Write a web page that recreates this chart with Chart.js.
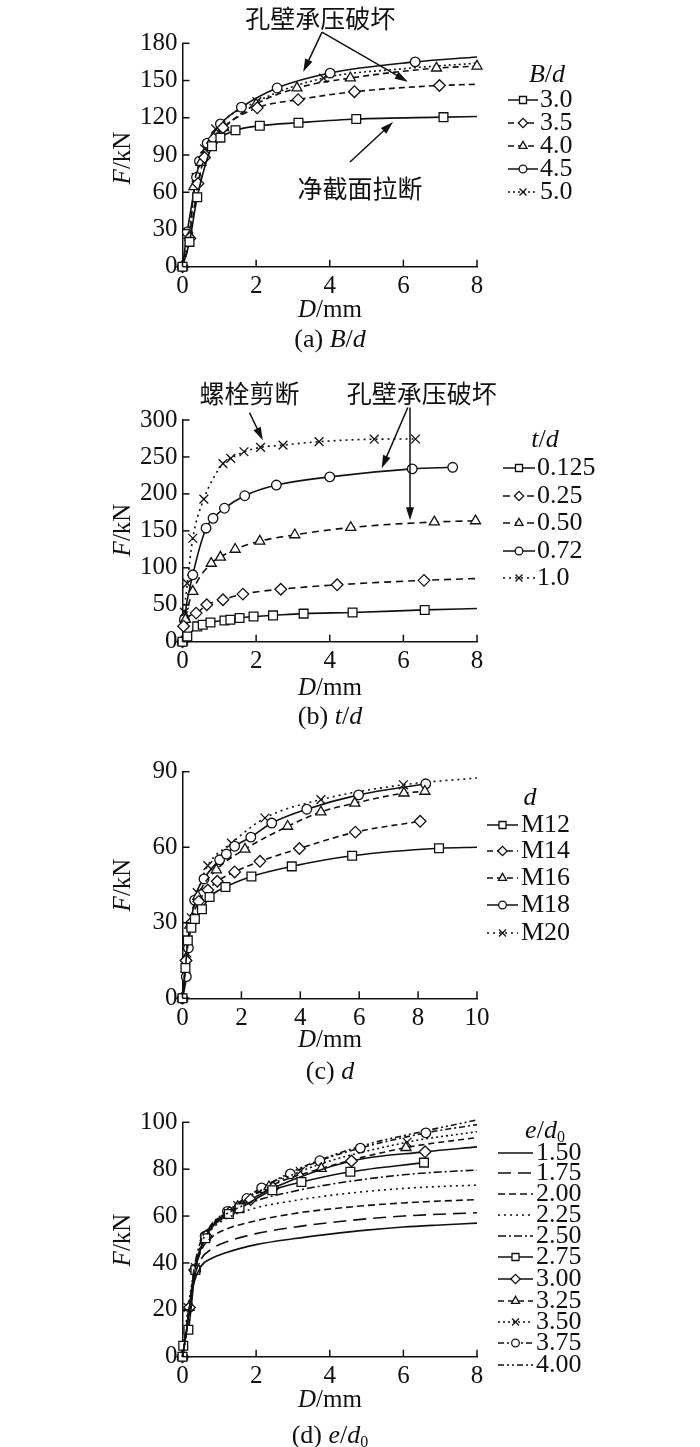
<!DOCTYPE html>
<html>
<head>
<meta charset="utf-8">
<script src="https://cdn.jsdelivr.net/npm/chart.js@4.4.1/dist/chart.umd.min.js"></script>
<style>
html, body { margin: 0; padding: 0; background: #fff; }
#wrap { position: relative; width: 700px; height: 1447px; }
canvas { position: absolute; left: 0; }
</style>
</head>
<body>
<div id="wrap">
  <canvas id="ca" width="700" height="355" style="top:0px"></canvas>
  <canvas id="cb" width="700" height="385" style="top:355px"></canvas>
  <canvas id="cc" width="700" height="350" style="top:740px"></canvas>
  <canvas id="cd" width="700" height="357" style="top:1090px"></canvas>
</div>
<script>
// (a) B/d  -- [D (mm), F (kN)], third item 0 = curve point without marker
const aLabels = ['3.0', '3.5', '4.0', '4.5', '5.0'];
const a30 = [[0,0],[0.19,20],[0.4,56],[0.8,97],[1.03,104],[1.44,110],[2.1,113.5],[3.15,116],[4.72,119],[7.09,120.5],[8,121,0]];
const a35 = [[0,0],[0.2,23],[0.42,67],[0.6,88],[0.85,103],[1.1,112],[2.03,128],[3.14,134.6],[4.67,141],[6.98,146],[8,147,0]];
const a40 = [[0,0],[0.2,25],[0.31,64.5],[0.5,84],[0.8,102],[1.12,112],[2.0,131],[3.11,144],[4.56,152],[6.9,160],[8,161.6]];
const a45 = [[0,0],[0.13,28],[0.38,72],[0.46,85],[0.67,99.5],[1.03,115],[1.6,128.5],[2.57,144],[4.01,156],[6.32,165],[8,169,0]];
const a50 = [[0,0],[0.17,24],[0.37,72],[0.6,95],[0.9,111],[2.02,133],[3.83,152],[6,159.5,0],[8,164,0]];

// (b) t/d
const bLabels = ['0.125', '0.25', '0.50', '0.72', '1.0'];
const b0125 = [[0,0],[0.13,7],[0.4,20.7],[0.55,23],[0.76,26],[1.14,28.8],[1.3,29.7],[1.55,32],[1.93,34],[2.46,35.6],[3.29,38],[4.62,39.6],[6.58,43],[8,45,0]];
const b025 = [[0,0],[0.03,21],[0.37,38.7],[0.66,50],[1.1,56.8],[1.64,64.4],[2.67,71],[4.2,77],[6.56,83],[8,85.5,0]];
const b050 = [[0,0],[0.08,30],[0.28,68],[0.78,106],[1.03,114.4],[1.43,125],[2.1,136],[3.05,144.6],[4.57,154.5],[6.84,162],[7.96,163.5]];
const b072 = [[0,0],[0.05,30],[0.28,90.5],[0.64,153.6],[0.83,167],[1.14,180.6],[1.69,197.5],[2.55,212],[4.0,223],[6.24,233.8],[7.34,236]];
const b10 = [[0,0],[0.05,40],[0.13,79],[0.28,140],[0.58,193],[1.1,241],[1.31,248],[1.67,257],[2.12,263],[2.73,266],[3.71,270.7],[5.21,274],[6.33,274.3]];

// (c) d
const cLabels = ['M12', 'M14', 'M16', 'M18', 'M20'];
const c12 = [[0,0],[0.1,12],[0.18,23],[0.3,28],[0.42,31.5],[0.66,35.4],[0.92,40.2],[1.46,44.2],[2.34,48.4],[3.71,52.4],[5.76,56.6],[8.71,59.6],[10,60,0]];
const c14 = [[0,0],[0.12,15],[0.3,30],[0.55,38.5],[0.86,43],[1.18,46.5],[1.77,50.2],[2.63,54.4],[3.97,59.5],[5.87,66],[8.07,70.3]];
const c16 = [[0,0],[0.12,16],[0.25,29],[0.52,40.5],[1.15,51],[2.12,59.2],[3.57,68.3],[4.7,74],[5.85,77.5],[7.52,81.5],[8.23,82.2]];
const c18 = [[0,0],[0.13,8.6],[0.2,20],[0.41,39],[0.73,47.4],[1.26,55],[1.49,57.3],[1.77,60.4],[2.32,64],[3.03,69.6],[4.22,75.1],[5.98,80.8],[8.26,85.2]];
const c20 = [[0,0],[0.15,18],[0.3,32],[0.5,42],[0.86,52.7],[1.66,61.6],[2.8,71.6],[4.7,78.9],[7.5,84.8],[10,87.5,0]];

// (d) e/d0
const dLabels = ['1.50', '1.75', '2.00', '2.25', '2.50', '2.75', '3.00', '3.25', '3.50', '3.75', '4.00'];
const d150 = [[0,0],[0.1,10],[0.2,22],[0.3,31],[0.5,38.5],[0.8,42],[1.2,44.5],[2,47.8],[3,50.3],[4,52.3],[5,54],[6,55.3],[7,56.2],[8,57]];
const d175 = [[0,0],[0.1,10],[0.2,22],[0.3,32.5],[0.5,41.5],[0.8,46],[1.2,49],[2,52.5],[3,55.2],[4,57.2],[5,58.8],[6,60],[7,60.8],[8,61.4]];
const d200 = [[0,0],[0.1,10],[0.2,22],[0.3,34],[0.5,45],[0.8,51],[1.2,54.5],[2,58],[3,61],[4,63],[5,64.5],[6,65.6],[7,66.4],[8,67]];
const d225 = [[0,0],[0.1,10],[0.2,22],[0.3,35],[0.5,48],[0.8,54.5],[1.2,59],[2,63.5],[3,66.5],[4,68.8],[5,70.5],[6,71.8],[7,72.6],[8,73.2]];
const d250 = [[0,0],[0.1,10],[0.2,22],[0.3,36],[0.5,49.5],[0.8,56],[1.2,61],[2,66.5],[3,70.5],[4,73.5],[5,75.8],[6,77.6],[7,78.8],[8,79.6]];
const d275 = [[0,0],[0.02,4.7],[0.16,11.5],[0.35,37],[0.62,50.5],[1.26,60.9],[1.55,63.3],[2.44,71],[3.23,74.5],[4.56,78.9],[6.56,82.8]];
const d300 = [[0,0],[0.19,21],[0.33,37],[0.64,51.5],[1.28,61.5],[1.85,67],[2.46,72],[4.59,83.5],[6.59,87.4],[8,89.5,0]];
const d325 = [[0,0],[0.18,21],[0.35,37.5],[0.62,51],[1.5,64],[2.35,72.5],[3.77,80.3],[6.07,89.2],[8,93.5,0]];
const d350 = [[0,0],[0.15,21],[0.35,38],[0.62,51],[1.5,64.5],[3.2,79],[6.1,91.5],[8,96,0]];
const d375 = [[0,0],[0.35,37],[0.62,51.5],[1.22,62],[1.75,67.5],[2.15,72],[2.93,78],[3.73,83.6],[4.83,89],[6.61,95.5],[8,99,0]];
const d400 = [[0,0],[0.1,10],[0.2,22],[0.35,38],[0.62,52],[1.3,63],[2.2,72.5],[3.5,82.5],[5,90.5],[6.5,96],[8,101]];

const INK = '#111';
const SERIF = '"Liberation Serif", "DejaVu Serif", serif';
const CJK = '"Noto Sans CJK SC", sans-serif';
const SOLID = [], DASH = [6, 4], DOT = [2, 3];
const markR = { rect: 6.2, rectRot: 5.8, triangle: 5.8, circle: 4.8, crossRot: 6.2 };

const panels = [
  {
    id: 'ca', top: 0, h: 355, areaTop: 43.3, areaBot: 266.7, xMax: 8, xStep: 2, yMax: 180, yStep: 30,
    series: [[a30, 'rect', SOLID], [a35, 'rectRot', DASH], [a40, 'triangle', DASH], [a45, 'circle', SOLID], [a50, 'crossRot', DOT]],
    labels: aLabels,
    fy: 158, dmY: 310, cap: [{t: '(a) '}, {t: 'B', i: 1}, {t: '/'}, {t: 'd', i: 1}], capY: 340,
    legTitle: [{t: 'B', i: 1}, {t: '/'}, {t: 'd', i: 1}], legTX: 547, legTY: 75,
    legY: [100, 123, 146, 169, 192], legX: [508, 538], legText: 540,
    notes: [
      {text: '孔壁承压破坏', at: [3.74, 200], arrows: [[3.79, 189, 3.28, 157], [3.79, 189, 6.12, 149]]},
      {text: '净截面拉断', at: [4.82, 63], arrows: [[4.55, 84.4, 5.72, 116.6]]}
    ]
  },
  {
    id: 'cb', top: 355, h: 385, areaTop: 420, areaBot: 641.7, xMax: 8, xStep: 2, yMax: 300, yStep: 50,
    series: [[b0125, 'rect', SOLID], [b025, 'rectRot', [7, 5]], [b050, 'triangle', [7, 5]], [b072, 'circle', SOLID], [b10, 'crossRot', [2, 4]]],
    labels: bLabels,
    fy: 530, dmY: 688, cap: [{t: '(b) '}, {t: 't', i: 1}, {t: '/'}, {t: 'd', i: 1}], capY: 717,
    legTitle: [{t: 't', i: 1}, {t: '/'}, {t: 'd', i: 1}], legTX: 545, legTY: 440,
    legY: [468, 496, 523, 551, 578], legX: [503, 535], legText: 537,
    notes: [
      {text: '螺栓剪断', at: [1.82, 336], arrows: [[1.82, 310, 2.18, 272.6]]},
      {text: '孔壁承压破坏', at: [6.5, 336], arrows: [[6.12, 317, 5.41, 234.7], [6.18, 317, 6.18, 164.5]]}
    ]
  },
  {
    id: 'cc', top: 740, h: 350, areaTop: 771.7, areaBot: 998.3, xMax: 10, xStep: 2, yMax: 90, yStep: 30,
    series: [[c12, 'rect', SOLID], [c14, 'rectRot', DASH], [c16, 'triangle', DASH], [c18, 'circle', SOLID], [c20, 'crossRot', [2, 4]]],
    labels: cLabels,
    fy: 885, dmY: 1040, cap: [{t: '(c) '}, {t: 'd', i: 1}], capY: 1072,
    legTitle: [{t: 'd', i: 1}], legTX: 530, legTY: 798,
    legY: [825, 851, 878, 905, 933], legX: [487, 518], legText: 521,
    notes: []
  },
  {
    id: 'cd', top: 1090, h: 357, areaTop: 1122.3, areaBot: 1356.7, xMax: 8, xStep: 2, yMax: 100, yStep: 20,
    series: [
      [d150, null, SOLID], [d175, null, [13, 7]], [d200, null, [7, 4]], [d225, null, [2, 4]], [d250, null, [8, 3, 2, 3]],
      [d275, 'rect', SOLID], [d300, 'rectRot', SOLID], [d325, 'triangle', [6, 4]], [d350, 'crossRot', [2, 3]],
      [d375, 'circle', [6, 3, 2, 3]], [d400, null, [6, 3, 2, 3, 2, 3]]
    ],
    labels: dLabels,
    fy: 1240, dmY: 1400, cap: [{t: '(d) '}, {t: 'e', i: 1}, {t: '/'}, {t: 'd', i: 1}, {t: '0', sub: 1}], capY: 1436,
    legTitle: [{t: 'e', i: 1}, {t: '/'}, {t: 'd', i: 1}, {t: '0', sub: 1}], legTX: 545, legTY: 1131,
    legY: [1153, 1173, 1194, 1215, 1236, 1257, 1279, 1301, 1322, 1343, 1365], legX: [498, 533], legText: 536,
    notes: []
  }
];

function rich(ctx, parts, x, y, size, align) {
  const fonts = parts.map(p => (p.i ? 'italic ' : '') + (p.sub ? Math.round(size * 0.6) : size) + 'px ' + SERIF);
  let w = 0;
  parts.forEach((p, k) => { ctx.font = fonts[k]; w += ctx.measureText(p.t).width; });
  let cx = align === 'center' ? x - w / 2 : x;
  ctx.textAlign = 'left';
  ctx.textBaseline = 'middle';
  parts.forEach((p, k) => {
    ctx.font = fonts[k];
    ctx.fillText(p.t, cx, p.sub ? y + size * 0.28 : y);
    cx += ctx.measureText(p.t).width;
  });
}

function arrow(ctx, x1, y1, x2, y2) {
  const a = Math.atan2(y2 - y1, x2 - x1), L = 13, W = 4;
  ctx.beginPath();
  ctx.moveTo(x1, y1);
  ctx.lineTo(x2 - L * 0.7 * Math.cos(a), y2 - L * 0.7 * Math.sin(a));
  ctx.stroke();
  ctx.beginPath();
  ctx.moveTo(x2, y2);
  ctx.lineTo(x2 - L * Math.cos(a) + W * Math.sin(a), y2 - L * Math.sin(a) - W * Math.cos(a));
  ctx.lineTo(x2 - L * Math.cos(a) - W * Math.sin(a), y2 - L * Math.sin(a) + W * Math.cos(a));
  ctx.closePath();
  ctx.fill();
}

function decor(p) {
  return {
    id: 'decor_' + p.id,
    afterDraw(chart) {
      const ctx = chart.ctx, xs = chart.scales.x, ys = chart.scales.y;
      const off = p.top;
      ctx.save();
      ctx.strokeStyle = INK;
      ctx.fillStyle = INK;
      ctx.lineWidth = 1.5;
      // inward tick marks
      ys.ticks.forEach(t => {
        const y = ys.getPixelForValue(t.value);
        ctx.beginPath(); ctx.moveTo(xs.left, y); ctx.lineTo(xs.left + 7, y); ctx.stroke();
      });
      xs.ticks.forEach(t => {
        const x = xs.getPixelForValue(t.value);
        ctx.beginPath(); ctx.moveTo(x, ys.bottom); ctx.lineTo(x, ys.bottom - 7); ctx.stroke();
      });
      // axis titles and caption
      rich(ctx, [{t: 'D', i: 1}, {t: '/mm'}], 330, p.dmY - off, 25, 'center');
      rich(ctx, p.cap, 330, p.capY - off, 26, 'center');
      ctx.save();
      ctx.translate(123, p.fy - off);
      ctx.rotate(-Math.PI / 2);
      rich(ctx, [{t: 'F', i: 1}, {t: '/kN'}], 0, 0, 25, 'center');
      ctx.restore();
      // legend
      rich(ctx, p.legTitle, p.legTX, p.legTY - off, 26, 'center');
      p.series.forEach((s, k) => {
        const y = p.legY[k] - off;
        ctx.lineWidth = 1.5;
        ctx.setLineDash(s[2]);
        ctx.beginPath(); ctx.moveTo(p.legX[0], y); ctx.lineTo(p.legX[1], y); ctx.stroke();
        ctx.setLineDash([]);
        if (s[1]) {
          ctx.fillStyle = '#fff';
          ctx.lineWidth = 1.3;
          Chart.helpers.drawPoint(ctx, {pointStyle: s[1], radius: markR[s[1]] * 0.8, rotation: 0, borderWidth: 1.3},
            (p.legX[0] + p.legX[1]) / 2, y);
          ctx.fillStyle = INK;
        }
        rich(ctx, [{t: p.labels[k]}], p.legText, y, 26, 'left');
      });
      // annotations
      ctx.lineWidth = 1.5;
      p.notes.forEach(n => {
        ctx.font = '25px ' + CJK;
        ctx.textAlign = 'center';
        ctx.textBaseline = 'middle';
        ctx.fillText(n.text, xs.getPixelForValue(n.at[0]), ys.getPixelForValue(n.at[1]));
        n.arrows.forEach(a => arrow(ctx,
          xs.getPixelForValue(a[0]), ys.getPixelForValue(a[1]),
          xs.getPixelForValue(a[2]), ys.getPixelForValue(a[3])));
      });
      ctx.restore();
    }
  };
}

panels.forEach(p => {
  const datasets = p.series.map((s, k) => ({
    label: p.labels[k],
    data: s[0],
    borderColor: INK,
    borderWidth: 1.6,
    borderDash: s[2],
    fill: false,
    cubicInterpolationMode: 'monotone',
    clip: false,
    pointStyle: s[1] || 'circle',
    pointRadius: c => (!s[1] || (c.raw && c.raw[2] === 0)) ? 0 : markR[s[1]],
    pointBackgroundColor: '#fff',
    pointBorderColor: INK,
    pointBorderWidth: 1.3
  }));
  const tickFont = {family: SERIF, size: 25};
  new Chart(document.getElementById(p.id), {
    type: 'line',
    data: {datasets},
    options: {
      responsive: false,
      animation: false,
      events: [],
      layout: {
        padding: {
          left: 182.5 - 45,
          right: 700 - 477,
          top: p.areaTop - p.top,
          bottom: p.h - (p.areaBot - p.top) - 30
        }
      },
      plugins: {legend: {display: false}, tooltip: {enabled: false}},
      scales: {
        x: {
          type: 'linear', min: 0, max: p.xMax,
          afterFit: s => { s.height = 30; },
          ticks: {stepSize: p.xStep, color: INK, font: tickFont, padding: 5, maxRotation: 0},
          grid: {display: false, drawTicks: false},
          border: {display: true, color: INK, width: 1.5}
        },
        y: {
          type: 'linear', min: 0, max: p.yMax,
          afterFit: s => { s.width = 45; },
          ticks: {stepSize: p.yStep, color: INK, font: tickFont, padding: 5},
          grid: {display: false, drawTicks: false},
          border: {display: true, color: INK, width: 1.5}
        }
      }
    },
    plugins: [decor(p)]
  });
});
</script>
</body>
</html>
